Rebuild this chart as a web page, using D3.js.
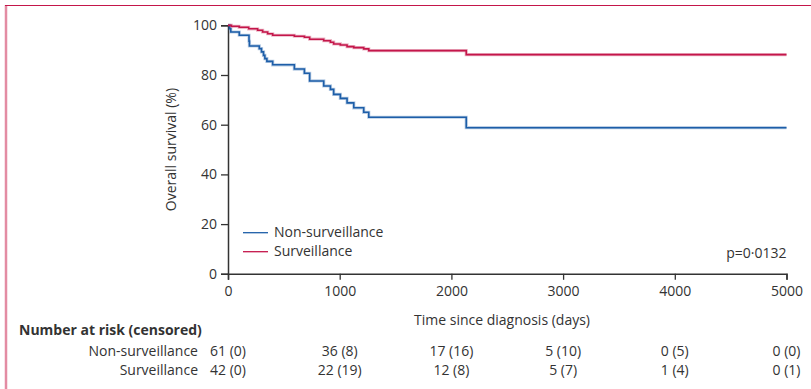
<!DOCTYPE html>
<html>
<head>
<meta charset="utf-8">
<script src="https://cdn.jsdelivr.net/npm/d3@7"></script>
<style>
  body { margin: 0; background: #fff; }
  svg text { font-family: "Open Sans", "Noto Sans", sans-serif; fill: #333; }
</style>
</head>
<body>
<svg id="chart" width="811" height="389"></svg>
<script>
// Kaplan-Meier steps (days, % surviving)
const nonSurvDays = [0, 15, 25, 101, 188, 192, 280, 300, 318, 330, 348, 400, 594, 684, 731, 857, 917, 946, 1006, 1066, 1126, 1215, 1260, 2133, 5000];
const nonSurvPct  = [100, 98.6, 97.3, 96.0, 93.6, 91.7, 90.6, 89.3, 87.9, 86.6, 85.5, 84.1, 82.4, 80.7, 77.6, 75.6, 74.2, 72.2, 70.6, 68.8, 66.8, 65.0, 63.0, 58.8, 58.8];

const survDays = [0, 30, 100, 185, 265, 310, 355, 400, 594, 684, 731, 857, 917, 946, 1006, 1066, 1126, 1215, 1260, 2133, 5000];
const survPct  = [100, 99.6, 99.2, 98.6, 98.0, 97.3, 96.6, 96.0, 95.6, 95.2, 94.4, 93.8, 93.2, 92.5, 92.1, 91.4, 91.0, 90.5, 89.8, 88.2, 88.2];

const seriesNames = ["Non-surveillance", "Surveillance"];
const seriesColors = ["#1d5ea8", "#c4164a"];

const xTicks = [0, 1000, 2000, 3000, 4000, 5000];
const yTicks = [0, 20, 40, 60, 80, 100];

// number at risk (censored) at each x tick
const riskTimes = [0, 1000, 2000, 3000, 4000, 5000];
const nonSurvAtRisk  = [61, 36, 17, 5, 0, 0];
const nonSurvCensor  = [0, 8, 16, 10, 5, 0];
const survAtRisk     = [42, 22, 12, 5, 1, 0];
const survCensor     = [0, 19, 8, 7, 4, 1];

const pValue = "p=0·0132";

const svg = d3.select("#chart");

// panel frame: pink bar at left, thin rule on top
svg.append("line")
  .attr("x1", 6).attr("x2", 6).attr("y1", 5).attr("y2", 389)
  .attr("stroke", "#e38ca3").attr("stroke-width", 2.5);
svg.append("line")
  .attr("x1", 5).attr("x2", 811).attr("y1", 5.5).attr("y2", 5.5)
  .attr("stroke", "#c4164a").attr("stroke-width", 1);

const x = d3.scaleLinear().domain([0, 5000]).range([228, 786.5]);
const y = d3.scaleLinear().domain([0, 100]).range([273.8, 25.3]);

// axes
const xAxis = svg.append("g")
  .attr("transform", "translate(0," + y(0) + ")")
  .call(d3.axisBottom(x).tickValues(xTicks).tickSize(6).tickPadding(6).tickFormat(d3.format("d")));
const yAxis = svg.append("g")
  .attr("transform", "translate(" + x(0) + ",0)")
  .call(d3.axisLeft(y).tickValues(yTicks).tickSize(7).tickPadding(4));

[xAxis, yAxis].forEach(function (g) {
  g.select(".domain").attr("stroke", "#333").attr("stroke-width", 1.5);
  g.selectAll(".tick line").attr("stroke", "#333").attr("stroke-width", 1.3);
  g.selectAll(".tick text").attr("font-size", 14).attr("fill", "#333")
    .style("font-family", "'Open Sans', 'Noto Sans', sans-serif");
});

svg.append("text")
  .attr("transform", "translate(176," + (y(50)) + ") rotate(-90)")
  .attr("text-anchor", "middle")
  .attr("font-size", 14)
  .text("Overall survival (%)");

svg.append("text")
  .attr("x", 502).attr("y", 324.5)
  .attr("text-anchor", "middle")
  .attr("font-size", 14)
  .text("Time since diagnosis (days)");

// survival curves
const line = d3.line()
  .x(function (d) { return x(d[0]); })
  .y(function (d) { return y(d[1]); })
  .curve(d3.curveStepAfter);

const curves = [
  d3.zip(nonSurvDays, nonSurvPct),
  d3.zip(survDays, survPct)
];

curves.forEach(function (pts, i) {
  svg.append("path")
    .datum(pts)
    .attr("fill", "none")
    .attr("stroke", seriesColors[i])
    .attr("stroke-opacity", 0.3)
    .attr("stroke-width", 3.2)
    .attr("d", line);
  svg.append("path")
    .datum(pts)
    .attr("fill", "none")
    .attr("stroke", seriesColors[i])
    .attr("stroke-width", 1.6)
    .attr("d", line);
});

// legend
const legend = svg.append("g").attr("transform", "translate(243,232.7)");
seriesNames.forEach(function (name, i) {
  const row = legend.append("g").attr("transform", "translate(0," + (i * 19) + ")");
  row.append("line")
    .attr("x1", 0).attr("x2", 25)
    .attr("stroke", seriesColors[i]).attr("stroke-width", 1.3);
  row.append("text")
    .attr("x", 31).attr("y", 4.5)
    .attr("font-size", 14)
    .text(name);
});

svg.append("text")
  .attr("x", 786.5).attr("y", 257.5)
  .attr("text-anchor", "end")
  .attr("font-size", 14)
  .text(pValue);

// number at risk table
svg.append("text")
  .attr("x", 19).attr("y", 335)
  .attr("font-size", 14)
  .attr("font-weight", "bold")
  .text("Number at risk (censored)");

const riskRows = [
  { name: seriesNames[0], n: nonSurvAtRisk, c: nonSurvCensor, yy: 356 },
  { name: seriesNames[1], n: survAtRisk, c: survCensor, yy: 375 }
];

riskRows.forEach(function (r) {
  svg.append("text")
    .attr("x", 198).attr("y", r.yy)
    .attr("text-anchor", "end")
    .attr("font-size", 14)
    .text(r.name);
  svg.selectAll(null)
    .data(riskTimes)
    .enter()
    .append("text")
    .attr("x", function (d) { return x(d); })
    .attr("y", r.yy)
    .attr("text-anchor", "middle")
    .attr("font-size", 14)
    .text(function (d, i) { return r.n[i] + " (" + r.c[i] + ")"; });
});
</script>
</body>
</html>
